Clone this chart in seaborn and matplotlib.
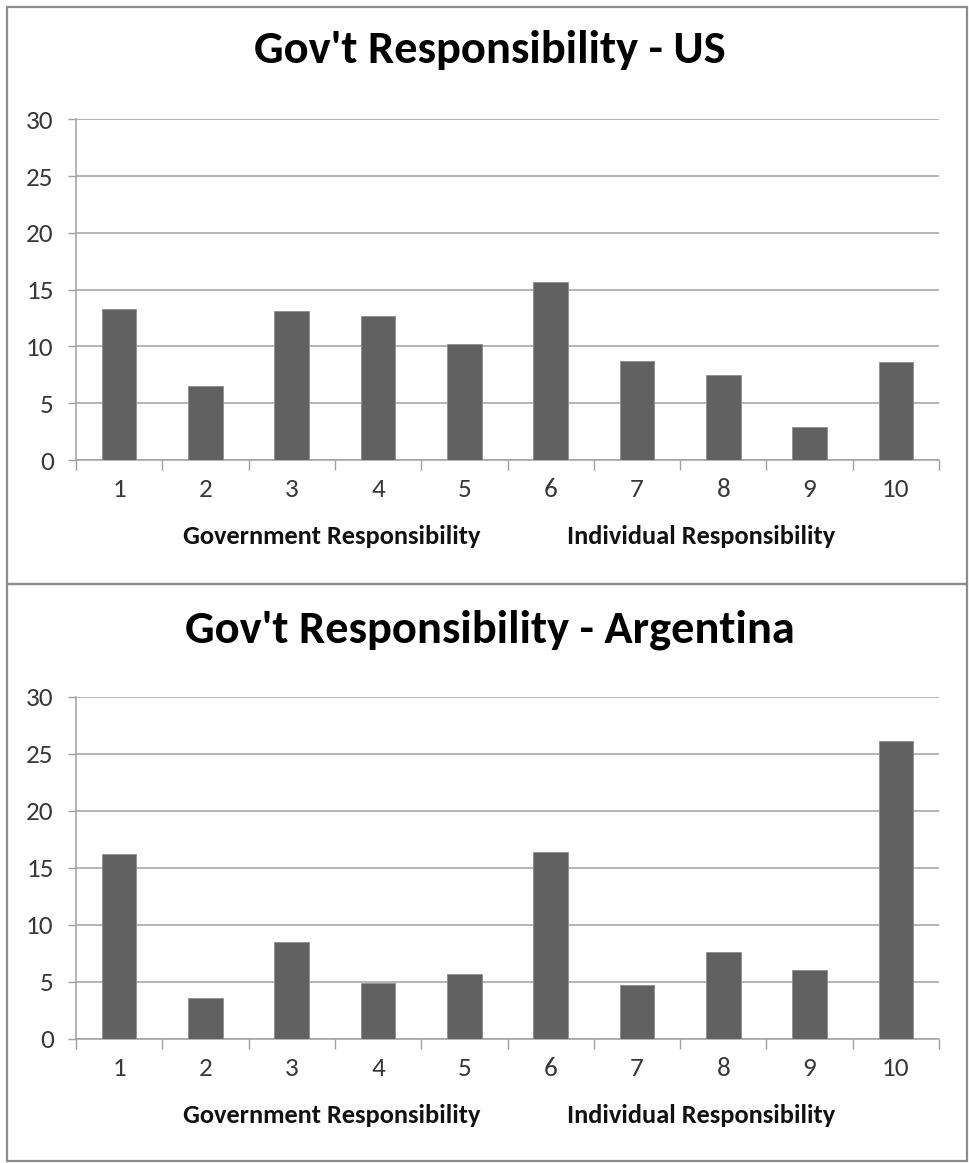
import matplotlib
matplotlib.use("Agg")
import matplotlib.pyplot as plt
from matplotlib import font_manager
from matplotlib.patches import Rectangle
from matplotlib.ticker import FixedLocator
import seaborn as sns
import pandas as pd

# Survey scale: 1 = government responsibility ... 10 = individual responsibility
scale_points = ["1", "2", "3", "4", "5", "6", "7", "8", "9", "10"]
us_share = [13.3, 6.5, 13.1, 12.7, 10.2, 15.7, 8.7, 7.5, 2.9, 8.6]
argentina_share = [16.2, 3.6, 8.5, 4.9, 5.7, 16.4, 4.7, 7.6, 6.0, 26.1]
panel_titles = ["Gov't Responsibility - US", "Gov't Responsibility - Argentina"]
left_caption = "Government Responsibility"
right_caption = "Individual Responsibility"
y_ticks = [0, 5, 10, 15, 20, 25, 30]

sns.set_theme(style="white")
available = {f.name for f in font_manager.fontManager.ttflist}
family = next((f for f in ["Carlito", "Open Sans", "Lato", "DejaVu Sans"] if f in available), "DejaVu Sans")
plt.rcParams["font.family"] = [family, "DejaVu Sans"]

W, H = 969, 1163
fig = plt.figure(figsize=(W / 100, H / 100), dpi=100)
fig.patch.set_facecolor("white")

BAR = "#616161"
GRID = "#a0a0a0"
FRAME = "#8c8c8c"


def frac_box(x0, y0, x1, y1):
    return [x0 / W, 1 - y1 / H, (x1 - x0) / W, (y1 - y0) / H]


# panel outlines
for (y0, y1) in [(7, 584), (584, 1161)]:
    fig.add_artist(Rectangle((7 / W, 1 - y1 / H), 960 / W, (y1 - y0) / H,
                             transform=fig.transFigure, fill=False,
                             edgecolor=FRAME, linewidth=1.6))

panels = [
    (us_share, panel_titles[0], (76, 119.3, 939, 460), 63),
    (argentina_share, panel_titles[1], (76, 696.7, 939, 1038.7), 642),
]

for values, title, box, title_y in panels:
    ax = fig.add_axes(frac_box(*box))
    df = pd.DataFrame({"point": scale_points, "share": values})
    sns.barplot(data=df, x="point", y="share", order=scale_points, color=BAR,
                width=0.4, saturation=1, edgecolor="#8e8e8e", linewidth=0.6,
                ax=ax, zorder=3)
    ax.set_xlim(-0.5, len(scale_points) - 0.5)
    ax.set_ylim(0, 30)
    ax.set_yticks(y_ticks)
    ax.set_yticklabels([str(t) for t in y_ticks], fontsize=19.5, color="#383838")
    ax.yaxis.grid(True, color=GRID, linewidth=1.1, zorder=0)
    ax.set_axisbelow(True)
    ax.tick_params(axis="y", left=True, length=6, width=1.0, color=GRID, pad=10)
    ax.set_xticks(range(len(scale_points)))
    ax.set_xticklabels(scale_points, fontsize=19.5, color="#383838")
    ax.tick_params(axis="x", which="major", bottom=True, length=0, pad=13)
    ax.xaxis.set_minor_locator(FixedLocator([i - 0.5 for i in range(len(scale_points) + 1)]))
    ax.tick_params(axis="x", which="minor", bottom=True, length=7, width=1.0, color=GRID)
    for s in ["top", "right"]:
        ax.spines[s].set_visible(False)
    for s in ["left", "bottom"]:
        ax.spines[s].set_color(GRID)
        ax.spines[s].set_linewidth(1.1)
    ax.set_xlabel("")
    ax.set_ylabel("")
    ax.text(0.2966, -0.226, left_caption, transform=ax.transAxes, ha="center",
            va="center", fontsize=19, fontweight="bold", color="#111111")
    ax.text(0.724, -0.226, right_caption, transform=ax.transAxes, ha="center",
            va="center", fontsize=19, fontweight="bold", color="#111111")
    fig.text(490 / W, 1 - title_y / H, title, ha="center", va="baseline",
             fontsize=33.5, fontweight="bold", color="black")

fig.savefig("out.png", dpi=100, facecolor="white")
